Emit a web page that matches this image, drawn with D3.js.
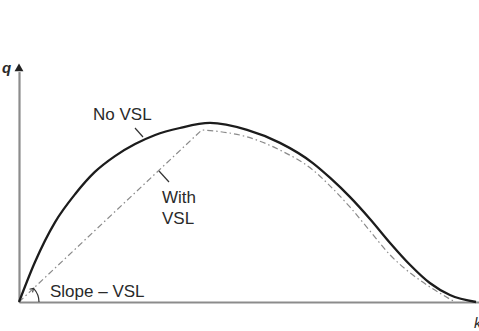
<!DOCTYPE html>
<html>
<head>
<meta charset="utf-8">
<script src="https://cdn.jsdelivr.net/npm/d3@7"></script>
<style>
  html, body { margin: 0; padding: 0; background: #fff; }
  svg { display: block; }
  text { font-family: "Liberation Sans", Arial, Helvetica, sans-serif; fill: #2a2a2a; }
</style>
</head>
<body>
<svg id="chart" width="479" height="331"></svg>
<script>
// Flow–density diagram (k, q), normalised units 0–100
const kNoVSL = [0, 3.5, 7.9, 12.3, 16.6, 21.0, 25.4, 29.8, 35.2, 41.8, 49.9, 57.1, 64.3, 68.1, 72.4, 76.8, 81.2, 85.6, 89.9, 94.3, 100];
const qNoVSL = [0, 16.7, 33.3, 45.0, 54.2, 60.8, 65.8, 69.6, 72.5, 74.6, 71.7, 66.3, 57.9, 51.7, 43.8, 34.6, 24.6, 15.4, 7.9, 2.9, 0];

// With VSL: straight rise up to the capacity point, then the congested branch
const kVSLRise = [0, 40.0];
const qVSLRise = [0, 71.7];
const kVSLFall = [40.0, 42.5, 49.9, 57.1, 64.3, 68.1, 72.4, 76.8, 81.2, 85.6, 89.9, 95.4];
const qVSLFall = [71.7, 71.3, 68.8, 63.3, 55.0, 48.3, 39.6, 29.6, 19.6, 12.1, 6.3, 0];

const axisLabels = { y: "q", x: "k" };
const curveLabels = ["No VSL", ["With", "VSL"], "Slope \u2013 VSL"];

const svg = d3.select("#chart");
const x = d3.scaleLinear().domain([0, 100]).range([19, 476]);
const y = d3.scaleLinear().domain([0, 100]).range([302, 62]);

// axes: plain lines, no ticks
const xAxisScale = d3.scaleLinear().domain([0, 101]).range([x(0), x(101)]);
const yAxisScale = d3.scaleLinear().domain([0, 96]).range([y(0), y(96)]);

const gx = svg.append("g").attr("transform", `translate(0,${y(0)})`)
  .call(d3.axisBottom(xAxisScale).tickValues([]).tickSizeOuter(0));
const gy = svg.append("g").attr("transform", `translate(${x(0)},0)`)
  .call(d3.axisLeft(yAxisScale).tickValues([]).tickSizeOuter(0));
[gx, gy].forEach(g => g.select(".domain").attr("stroke", "#8c8c8c").attr("stroke-width", 2.2));

// arrowhead on the q axis
svg.append("path")
  .attr("d", d3.symbol(d3.symbolTriangle, 34)())
  .attr("transform", `translate(${x(0)},${y(97.2)})`)
  .attr("fill", "#222");

svg.append("text").attr("x", 2).attr("y", 73)
  .attr("font-size", 15).attr("font-style", "italic").attr("font-weight", "bold")
  .text(axisLabels.y);
svg.append("text").attr("x", 474).attr("y", 328)
  .attr("font-size", 15).attr("font-style", "italic")
  .text(axisLabels.x);

const line = d3.line().x(d => x(d[0])).y(d => y(d[1]));

// with VSL (dash-dot)
const rise = line.curve(d3.curveLinear)(d3.zip(kVSLRise, qVSLRise));
const fall = line.curve(d3.curveMonotoneX)(d3.zip(kVSLFall, qVSLFall));
svg.append("path")
  .attr("d", rise + fall.replace(/^M/, "L"))
  .attr("fill", "none")
  .attr("stroke", "#8a8a8a")
  .attr("stroke-width", 1.2)
  .attr("stroke-dasharray", "6,3,1.5,3");

// no VSL (solid)
svg.append("path")
  .attr("d", line.curve(d3.curveMonotoneX)(d3.zip(kNoVSL, qNoVSL)))
  .attr("fill", "none")
  .attr("stroke", "#1c1c1c")
  .attr("stroke-width", 2.3);

// labels and leaders
svg.append("text").attr("x", 93).attr("y", 120).attr("font-size", 17).text(curveLabels[0]);
svg.append("line").attr("x1", 135).attr("y1", 128).attr("x2", 143).attr("y2", 137)
  .attr("stroke", "#333").attr("stroke-width", 1.2);

svg.append("text").attr("x", 162).attr("y", 203).attr("font-size", 17).text(curveLabels[1][0]);
svg.append("text").attr("x", 162).attr("y", 224).attr("font-size", 17).text(curveLabels[1][1]);
svg.append("line").attr("x1", 159).attr("y1", 171).attr("x2", 169).attr("y2", 182)
  .attr("stroke", "#333").attr("stroke-width", 1.2);

// slope angle marker at the origin
const slopeAngle = Math.atan2(y(0) - y(qVSLRise[1]), x(kVSLRise[1]) - x(0));
const arcR = 20;
const arc = d3.arc().innerRadius(arcR).outerRadius(arcR)
  .startAngle(Math.PI / 2 - slopeAngle).endAngle(Math.PI / 2);
svg.append("path")
  .attr("d", arc())
  .attr("transform", `translate(${x(0)},${y(0)})`)
  .attr("fill", "none").attr("stroke", "#333").attr("stroke-width", 1.2);
const ax = x(0) + arcR * Math.cos(slopeAngle), ay = y(0) - arcR * Math.sin(slopeAngle);
svg.append("path")
  .attr("d", `M${ax - 4},${ay + 1} L${ax},${ay} L${ax - 1},${ay + 4}`)
  .attr("fill", "none").attr("stroke", "#333").attr("stroke-width", 1.1);

svg.append("text").attr("x", 50).attr("y", 297).attr("font-size", 17).text(curveLabels[2]);
</script>
</body>
</html>
